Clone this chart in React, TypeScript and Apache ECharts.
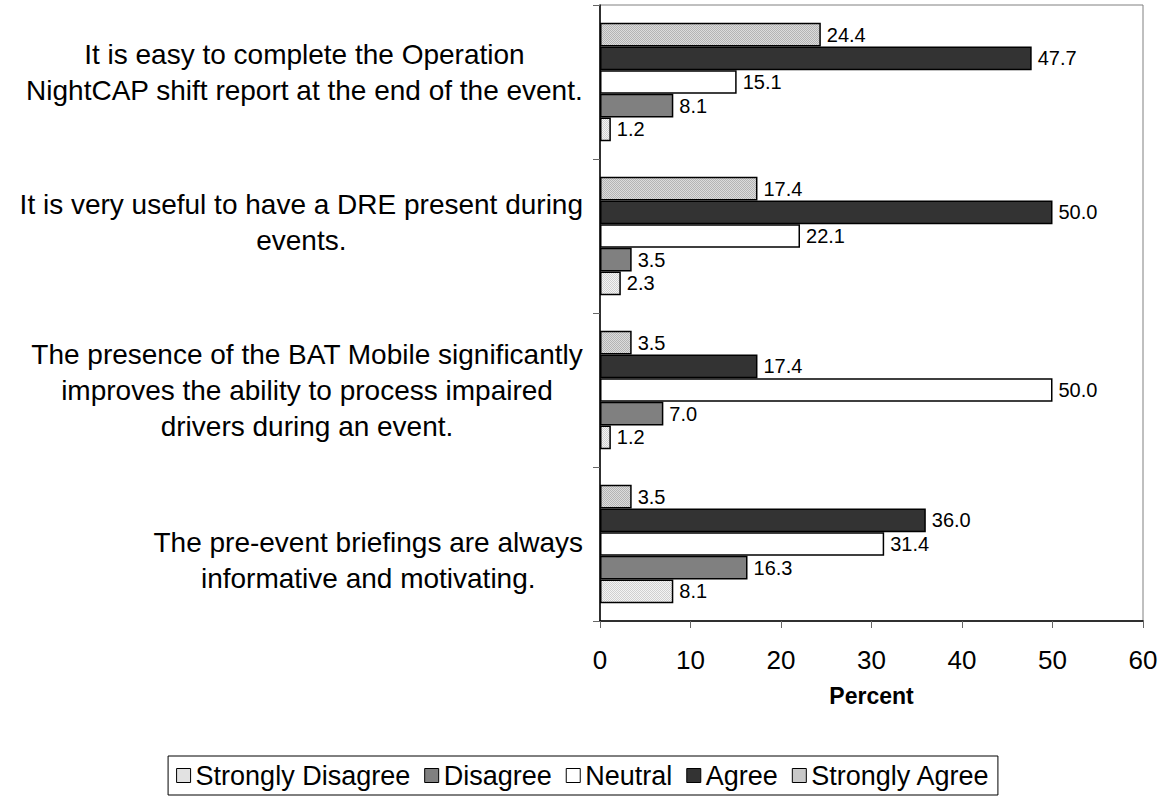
import React, { useEffect, useRef } from "react";
import * as echarts from "echarts";

const categories = [
  "It is easy to complete the Operation\nNightCAP shift report at the end of the event.",
  "It is very useful to have a DRE present during\nevents.",
  "The presence of the BAT Mobile significantly\nimproves the ability to process impaired\ndrivers during an event.",
  "The pre-event briefings are always\ninformative and motivating.",
];

const stronglyDisagree = [1.2, 2.3, 1.2, 8.1];
const disagree = [8.1, 3.5, 7.0, 16.3];
const neutral = [15.1, 22.1, 50.0, 31.4];
const agree = [47.7, 50.0, 17.4, 36.0];
const stronglyAgree = [24.4, 17.4, 3.5, 3.5];

const legendOrder = ["Strongly Disagree", "Disagree", "Neutral", "Agree", "Strongly Agree"];
const xTicks = { min: 0, max: 60, interval: 10 };

// vertical nudge of each category label block (px, negative = up)
const labelShift = [-10, -14, 0, 16];

const FONT = "'Liberation Sans', Arial, sans-serif";

function makePattern(a: string, b: string): any {
  const c = document.createElement("canvas");
  c.width = 2;
  c.height = 2;
  const ctx = c.getContext("2d")!;
  ctx.fillStyle = a;
  ctx.fillRect(0, 0, 2, 2);
  ctx.fillStyle = b;
  ctx.fillRect(0, 0, 1, 1);
  ctx.fillRect(1, 1, 1, 1);
  return { image: c, repeat: "repeat" };
}

export default function App() {
  const ref = useRef<HTMLDivElement>(null);
  useEffect(() => {
    if (!ref.current) return;
    const chart = echarts.init(ref.current, null, { renderer: "svg" });
    const saFill = makePattern("#dcdcdc", "#b4b4b4");
    const sdFill = makePattern("#f4f4f4", "#d0d0d0");
    const mk = (name: string, data: number[], color: any) => ({
      name,
      type: "bar",
      data,
      barGap: "0%",
      barCategoryGap: "23%",
      itemStyle: { color, borderColor: "#000", borderWidth: 1.5 },
      label: {
        show: true,
        position: "right",
        distance: 6,
        color: "#000",
        fontFamily: FONT,
        fontSize: 20,
        formatter: (p: any) => Number(p.value).toFixed(1),
      },
    });
    const rich: any = {
      c: {
        fontFamily: FONT,
        fontSize: 28,
        lineHeight: 36,
        color: "#000",
        align: "center",
      },
    };
    labelShift.forEach((s, i) => {
      rich["s" + i] = { fontSize: 1, lineHeight: Math.max(1, Math.abs(s) * 2), align: "center" };
    });
    chart.setOption({
      animation: false,
      backgroundColor: "#fff",
      textStyle: { fontFamily: FONT },
      grid: {
        left: 600,
        right: 23,
        top: 5,
        bottom: 182,
        show: true,
        borderColor: "#808080",
        borderWidth: 1,
        containLabel: false,
      },
      legend: {
        data: legendOrder,
        top: 756,
        left: "center",
        orient: "horizontal",
        icon: "rect",
        itemWidth: 14,
        itemHeight: 14,
        itemGap: 14,
        padding: [6, 8, 6, 8],
        borderColor: "#000",
        borderWidth: 1,
        textStyle: { fontFamily: FONT, fontSize: 27, color: "#000" },
        itemStyle: { borderColor: "#000", borderWidth: 1 },
      },
      xAxis: {
        type: "value",
        min: xTicks.min,
        max: xTicks.max,
        interval: xTicks.interval,
        name: "Percent",
        nameLocation: "middle",
        nameGap: 63,
        nameTextStyle: { fontFamily: FONT, fontSize: 23, fontWeight: "bold", color: "#000" },
        axisLine: { show: true, lineStyle: { color: "#000", width: 1.5 } },
        axisTick: { show: true, length: 7, lineStyle: { color: "#666" } },
        axisLabel: { fontFamily: FONT, fontSize: 26, color: "#000", margin: 26 },
        splitLine: { show: false },
      },
      yAxis: {
        type: "category",
        inverse: true,
        data: categories,
        axisLine: { show: true, lineStyle: { color: "#000", width: 1.5 } },
        axisTick: { show: true, length: 7, lineStyle: { color: "#666" } },
        axisLabel: {
          color: "#000",
          margin: 17,
          align: "right",
          formatter: (v: string, idx: number) => {
            const body = v
              .split("\n")
              .map((l) => `{c|${l}}`)
              .join("\n");
            const s = labelShift[idx] || 0;
            if (s < 0) return body + `\n{s${idx}| }`;
            if (s > 0) return `{s${idx}| }\n` + body;
            return body;
          },
          rich,
        },
      },
      series: [
        mk("Strongly Agree", stronglyAgree, saFill),
        mk("Agree", agree, "#333333"),
        mk("Neutral", neutral, "#ffffff"),
        mk("Disagree", disagree, "#808080"),
        mk("Strongly Disagree", stronglyDisagree, sdFill),
      ],
    });
    return () => chart.dispose();
  }, []);
  return (
    <div
      ref={ref}
      style={{ position: "absolute", left: 0, top: 0, width: 1166, height: 803 }}
    />
  );
}
